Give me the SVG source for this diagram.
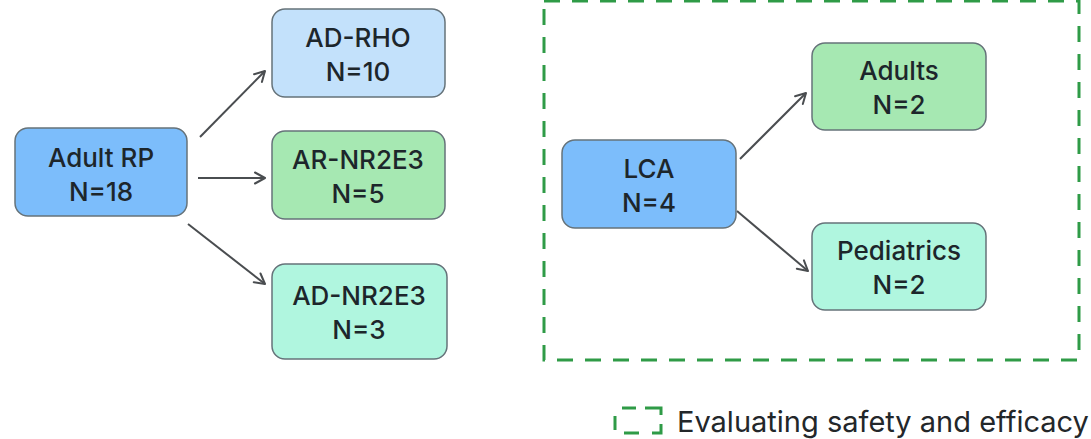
<svg xmlns="http://www.w3.org/2000/svg" width="1091" height="439" viewBox="0 0 1091 439">
  <defs>
    <marker id="arrow" viewBox="0 0 14 14" refX="12" refY="7" markerWidth="14" markerHeight="14" markerUnits="userSpaceOnUse" orient="auto">
      <path d="M2,1.5 L12,7 L2,12.5" fill="none" stroke="#4a4d50" stroke-width="2" stroke-linecap="round" stroke-linejoin="round"/>
    </marker>
  </defs>
  <style>
    .box { stroke: #66737a; stroke-width: 1.5; }
    .dark { fill: #7cbdfb; }
    .pale { fill: #c3e1fb; }
    .green { fill: #a6e8b2; }
    .mint { fill: #b0f6df; }
    .lbl { font-family: Inter, "Noto Sans", "Liberation Sans", sans-serif; font-size: 26px; font-weight: 500; fill: #1d262b; text-anchor: middle; }
    .edge { fill: none; stroke: #4a4d50; stroke-width: 2; marker-end: url(#arrow); }
    .frame { fill: none; stroke: #2f9b47; stroke-width: 3; }
    .legend { font-family: Inter, "Noto Sans", "Liberation Sans", sans-serif; font-size: 29px; font-weight: 400; fill: #23272a; }
  </style>
  <rect width="1091" height="439" fill="#ffffff"/>

  <!-- dashed frame around the LCA group -->
  <rect class="frame" x="544" y="1" width="535" height="359" stroke-dasharray="16 12"/>

  <g id="connectors">
    <line class="edge" x1="200" y1="137" x2="265" y2="71"/>
    <line class="edge" x1="198" y1="178" x2="265" y2="178"/>
    <line class="edge" x1="188" y1="224" x2="265" y2="284"/>
    <line class="edge" x1="740" y1="159" x2="806" y2="93"/>
    <line class="edge" x1="737" y1="211" x2="808" y2="271"/>
  </g>

  <g id="adult-rp">
    <rect class="box dark" x="15" y="128" width="172" height="88" rx="13"/>
    <text class="lbl" x="101" y="167">Adult RP</text>
    <text class="lbl" x="101" y="201">N=18</text>
  </g>
  <g id="ad-rho">
    <rect class="box pale" x="272" y="9" width="173" height="88" rx="13"/>
    <text class="lbl" x="358" y="47">AD-RHO</text>
    <text class="lbl" x="358" y="81">N=10</text>
  </g>
  <g id="ar-nr2e3">
    <rect class="box green" x="272" y="131" width="173" height="88" rx="13"/>
    <text class="lbl" x="358" y="169">AR-NR2E3</text>
    <text class="lbl" x="358" y="203">N=5</text>
  </g>
  <g id="ad-nr2e3">
    <rect class="box mint" x="272" y="264" width="175" height="95" rx="13"/>
    <text class="lbl" x="359" y="305">AD-NR2E3</text>
    <text class="lbl" x="359" y="339">N=3</text>
  </g>
  <g id="lca">
    <rect class="box dark" x="562" y="140" width="174" height="88" rx="13"/>
    <text class="lbl" x="649" y="178">LCA</text>
    <text class="lbl" x="649" y="212">N=4</text>
  </g>
  <g id="adults">
    <rect class="box green" x="812" y="43" width="174" height="87" rx="13"/>
    <text class="lbl" x="899" y="80">Adults</text>
    <text class="lbl" x="899" y="114">N=2</text>
  </g>
  <g id="pediatrics">
    <rect class="box mint" x="812" y="223" width="174" height="87" rx="13"/>
    <text class="lbl" x="899" y="260">Pediatrics</text>
    <text class="lbl" x="899" y="294">N=2</text>
  </g>

  <g id="legend">
    <path d="M615,416 V430 M622,408 H636 M645,408 H661 V415 M624,433 H639 M652,433 H661 V424" fill="none" stroke="#2f9b47" stroke-width="3"/>
    <text class="legend" x="677" y="432">Evaluating safety and efficacy</text>
  </g>
</svg>
